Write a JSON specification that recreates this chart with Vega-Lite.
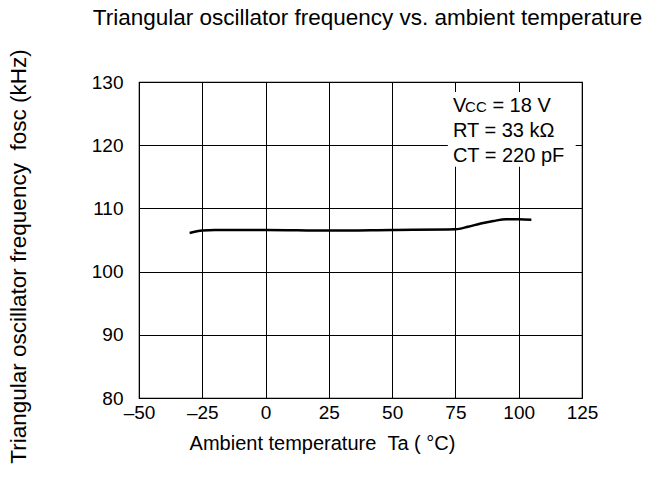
{
  "$schema": "https://vega.github.io/schema/vega-lite/v6.json",
  "width": 443,
  "height": 316,
  "autosize": {"type": "none"},
  "padding": {"left": 139, "top": 82, "right": 66, "bottom": 86},
  "background": "white",
  "config": {
    "font": "Liberation Sans",
    "view": {"stroke": "black", "strokeWidth": 1.2},
    "axis": {
      "grid": true, "gridColor": "black", "gridOpacity": 1, "gridWidth": 1,
      "domain": false, "ticks": false, "tickSize": 0, "labelFlush": false, "labelOverlap": false,
      "labelFont": "Liberation Sans", "labelFontSize": 19, "labelColor": "black",
      "titleFont": "Liberation Sans", "titleFontSize": 20, "titleFontWeight": "normal", "titleColor": "black"
    }
  },
  "title": {
    "text": "Triangular oscillator frequency vs. ambient temperature",
    "font": "Liberation Sans", "fontSize": 22.5, "fontWeight": "normal", "color": "black",
    "anchor": "middle", "dx": 7, "offset": 19
  },
  "layer": [
    {
      "data": {"values": [{"x1": 72, "x2": 122.5, "y1": 128.4, "y2": 116.6}]},
      "mark": {"type": "rect", "color": "white", "stroke": null},
      "encoding": {
        "x": {"field": "x1", "type": "quantitative", "scale": {"domain": [-50, 125], "nice": false},
          "axis": {"values": [-50, -25, 0, 25, 50, 75, 100, 125], "labelPadding": 5,
            "labelExpr": "replace(datum.label, '−', '–')",
            "title": "Ambient temperature\u00a0\u00a0Ta ( °C)", "titleX": 183, "titleY": 45, "titleBaseline": "middle", "titleAnchor": null}},
        "x2": {"field": "x2"},
        "y": {"field": "y1", "type": "quantitative", "scale": {"domain": [80, 130], "nice": false},
          "axis": {"values": [80, 90, 100, 110, 120, 130], "labelPadding": 16,
            "title": "Triangular oscillator frequency\u00a0\u00a0fosc (kHz)", "titleFontSize": 22.5, "titleX": -121, "titleY": 174,
            "titleAngle": -90, "titleAlign": "center", "titleBaseline": "middle"}},
        "y2": {"field": "y2"}
      }
    },
    {
      "data": {"values": [
        {"t": -30, "f": 106.1}, {"t": -25, "f": 106.5}, {"t": -20, "f": 106.6}, {"t": 0, "f": 106.6},
        {"t": 25, "f": 106.5}, {"t": 50, "f": 106.6}, {"t": 75, "f": 106.7}, {"t": 80, "f": 107.1},
        {"t": 85, "f": 107.6}, {"t": 90, "f": 108.0}, {"t": 95, "f": 108.3}, {"t": 100, "f": 108.3},
        {"t": 105, "f": 108.2}
      ]},
      "mark": {"type": "line", "color": "black", "strokeWidth": 2.5, "interpolate": "monotone"},
      "encoding": {
        "x": {"field": "t", "type": "quantitative"},
        "y": {"field": "f", "type": "quantitative"}
      }
    },
    {
      "data": {"values": [
        {"x": 74, "y": 125.3, "label": "V", "size": 20},
        {"x": 78.8, "y": 125.3, "label": "CC", "size": 15},
        {"x": 89.6, "y": 125.3, "label": "= 18 V", "size": 20},
        {"x": 74, "y": 121.35, "label": "RT = 33 kΩ", "size": 20},
        {"x": 74, "y": 117.4, "label": "CT = 220 pF", "size": 20}
      ]},
      "mark": {"type": "text", "align": "left", "baseline": "alphabetic", "color": "black", "font": "Liberation Sans"},
      "encoding": {
        "x": {"field": "x", "type": "quantitative"},
        "y": {"field": "y", "type": "quantitative"},
        "text": {"field": "label"},
        "size": {"field": "size", "type": "quantitative", "scale": null}
      }
    }
  ]
}
